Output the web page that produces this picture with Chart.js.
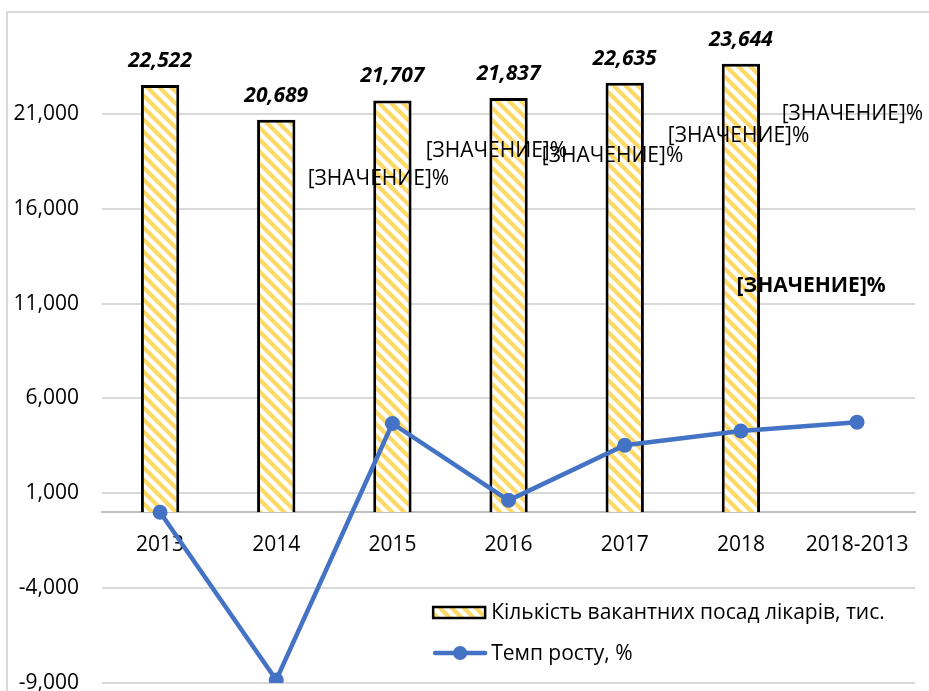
<!DOCTYPE html>
<html><head><meta charset="utf-8">
<script src="https://cdn.jsdelivr.net/npm/chart.js@4.4.1/dist/chart.umd.min.js"></script>
<style>
html,body{margin:0;padding:0;background:#fff;overflow:hidden;width:929px;height:691px}
#wrap{position:relative;width:929px;height:691px;overflow:hidden}
#frame{position:absolute;left:6px;top:11px;width:960px;height:720px;border:2px solid #D9D9D9;box-sizing:border-box}
canvas{position:absolute;left:0;top:0}
</style></head><body>
<div id="wrap"><div id="frame"></div><canvas id="c" width="929" height="700"></canvas></div>
<script>
// ---- data ----
const categories = ['2013','2014','2015','2016','2017','2018','2018-2013'];
const vacancies = [22522, 20689, 21707, 21837, 22635, 23644, null];
const growth = [0, -8840, 4680, 630, 3530, 4280, 4750];
const yTicks = [-9000, -4000, 1000, 6000, 11000, 16000, 21000];
const seriesNames = ['Кількість вакантних посад лікарів, тис.', 'Темп росту, %'];
const placeholderText = '[ЗНАЧЕНИЕ]%';

// placement of the unresolved line labels (category position, value, bold)
const placeholderPlacement = [
  {cat: 1.88, val: 17580, bold: false},
  {cat: 2.895, val: 19050, bold: false},
  {cat: 3.895, val: 18790, bold: false},
  {cat: 4.98, val: 19840, bold: false},
  {cat: 5.96, val: 21000, bold: false},
  {cat: 5.605, val: 11950, bold: true}
];

const FONT = "'Open Sans', sans-serif";
const FS = 21;
const BLUE = '#4472C4';

function makeStripePattern(){
  const P = 12;
  const c = document.createElement('canvas'); c.width = P; c.height = P;
  const g = c.getContext('2d');
  g.fillStyle = '#ffffff'; g.fillRect(0,0,P,P);
  g.strokeStyle = '#FFD966'; g.lineWidth = 4.2;
  for (let k = -1; k <= 1; k++) {
    g.beginPath();
    g.moveTo(k*P - 3, -3);
    g.lineTo(k*P + P + 3, P + 3);
    g.stroke();
  }
  return document.getElementById('c').getContext('2d').createPattern(c, 'repeat');
}
const stripe = makeStripePattern();

Chart.defaults.font.family = FONT;
Chart.defaults.font.size = FS;
Chart.defaults.color = '#000';

const labelsPlugin = {
  id: 'labelsPlugin',
  afterDatasetsDraw(chart) {
    const ctx = chart.ctx;
    const xs = chart.scales.x, ys = chart.scales.y;
    const barMeta = chart.getDatasetMeta(1);
    ctx.save();
    ctx.font = `italic bold ${FS}px ${FONT}`;
    ctx.fillStyle = '#000';
    ctx.textAlign = 'center';
    ctx.textBaseline = 'middle';
    barMeta.data.forEach((bar, i) => {
      const v = vacancies[i];
      if (v == null) return;
      ctx.fillText(v.toLocaleString('en-US'), bar.x, bar.y - 24);
    });
    const x0 = xs.getPixelForValue(0), step = xs.getPixelForValue(1) - x0;
    placeholderPlacement.forEach(p => {
      ctx.font = `${p.bold ? 'bold ' : ''}${FS}px ${FONT}`;
      ctx.fillText(placeholderText, x0 + p.cat * step, ys.getPixelForValue(p.val));
    });
    ctx.restore();
  },
  afterDraw(chart) {
    const ctx = chart.ctx;
    const a = chart.chartArea;
    ctx.save();
    const bx = a.right - 482, by = a.bottom - 76, bw = 52, bh = 11;
    ctx.fillStyle = stripe;
    ctx.fillRect(bx, by, bw, bh);
    ctx.strokeStyle = '#000'; ctx.lineWidth = 2.5;
    ctx.strokeRect(bx, by, bw, bh);
    ctx.fillStyle = '#000';
    ctx.font = `${FS}px ${FONT}`;
    ctx.textAlign = 'left'; ctx.textBaseline = 'middle';
    ctx.fillText(seriesNames[0], bx + bw + 6, by + bh/2 + 1);
    const ly = a.bottom - 30;
    ctx.strokeStyle = BLUE; ctx.lineWidth = 4.5; ctx.lineCap = 'round';
    ctx.beginPath(); ctx.moveTo(bx + 2, ly); ctx.lineTo(bx + bw, ly); ctx.stroke();
    ctx.fillStyle = BLUE;
    ctx.beginPath(); ctx.arc(bx + bw/2 + 1, ly, 7, 0, Math.PI*2); ctx.fill();
    ctx.fillStyle = '#000';
    ctx.fillText(seriesNames[1], bx + bw + 6, ly + 1);
    ctx.restore();
  }
};

new Chart(document.getElementById('c'), {
  data: {
    labels: categories,
    datasets: [
      {
        type: 'line', label: seriesNames[1], data: growth, order: 0,
        borderColor: BLUE, borderWidth: 4.5, tension: 0,
        pointRadius: 7.5, pointBackgroundColor: BLUE, pointBorderWidth: 0,
        pointHoverRadius: 7.5
      },
      {
        type: 'bar', label: seriesNames[0], data: vacancies, order: 1,
        backgroundColor: stripe, borderColor: '#000', borderWidth: 3,
        borderSkipped: 'start', barPercentage: 0.33, categoryPercentage: 1
      }
    ]
  },
  options: {
    responsive: false, animation: false,
    layout: { padding: { top: 19, right: 7, bottom: 17, left: 0 } },
    plugins: { legend: { display: false }, tooltip: { enabled: false } },
    scales: {
      x: {
        type: 'category', offset: true,
        position: { y: 0 },
        grid: { display: false, drawTicks: false },
        border: { display: true, color: '#BFBFBF', width: 2 },
        ticks: { padding: 20, color: '#000', maxRotation: 0, autoSkip: false }
      },
      y: {
        type: 'linear', min: -9000, max: 26000,
        afterBuildTicks: (s) => { s.ticks = yTicks.map(v => ({ value: v })); },
        afterFit: (s) => { s.width = 102; s.paddingTop = 0; s.paddingBottom = 0; },
        grid: { color: '#D9D9D9', lineWidth: 2, drawTicks: false },
        border: { display: false },
        ticks: { padding: 23, color: '#000', callback: (v) => Number(v).toLocaleString('en-US') }
      }
    }
  },
  plugins: [labelsPlugin]
});
</script>
</body></html>
